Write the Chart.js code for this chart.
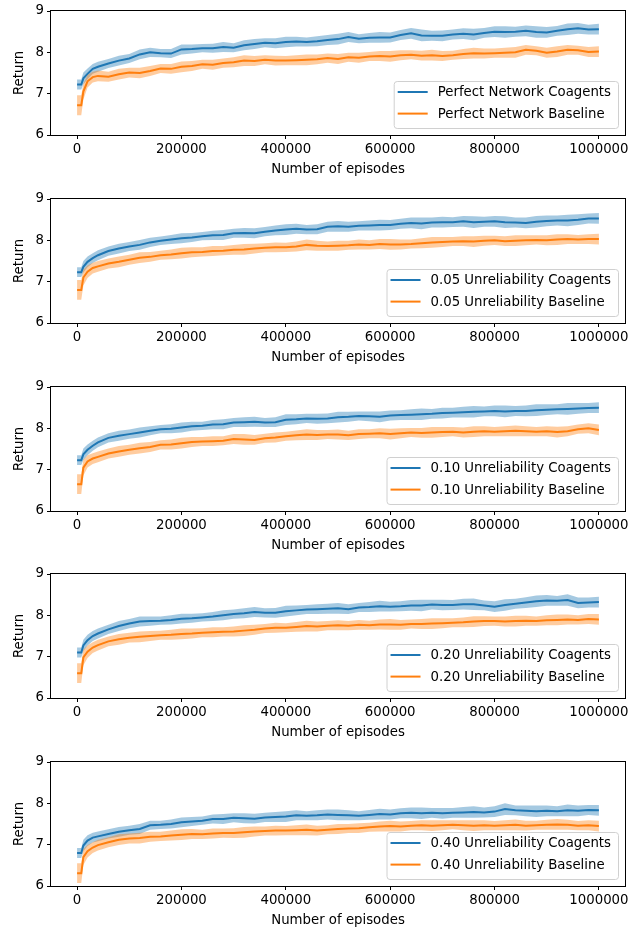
<!DOCTYPE html>
<html>
<head>
<meta charset="utf-8">
<script src="https://cdn.jsdelivr.net/npm/chart.js@4.4.1/dist/chart.umd.min.js"></script>
<style>
  body { margin: 0; background: #fff; }
  #fig { position: relative; width: 644px; height: 933px; }
  #fig canvas { position: absolute; left: 0; }
</style>
</head>
<body>
<div id="fig"></div>
<script>
// episode positions shared by every curve
const episodes = [0, 8000, 12000, 20000, 30000,
  40000, 60000, 80000, 100000, 120000, 140000, 160000, 180000, 200000, 220000,
  240000, 260000, 280000, 300000, 320000, 340000, 360000, 380000, 400000, 420000,
  440000, 460000, 480000, 500000, 520000, 540000, 560000, 580000, 600000, 620000,
  640000, 660000, 680000, 700000, 720000, 740000, 760000, 780000, 800000, 820000,
  840000, 860000, 880000, 900000, 920000, 940000, 960000, 980000, 1000000];

const xTicks = [0, 200000, 400000, 600000, 800000, 1000000];
const yTicks = [6, 7, 8, 9];

const panelNames = ['Perfect Network', '0.05 Unreliability', '0.10 Unreliability',
  '0.20 Unreliability', '0.40 Unreliability'];

// mean return, coagents
const coagentsPerfect = [7.22, 7.22, 7.37, 7.48, 7.6,
  7.65, 7.73, 7.8, 7.85, 7.95, 8.0, 7.98, 7.97, 8.07, 8.08,
  8.1, 8.1, 8.13, 8.11, 8.17, 8.2, 8.23, 8.22, 8.25, 8.26,
  8.25, 8.27, 8.3, 8.32, 8.37, 8.33, 8.35, 8.36, 8.36, 8.42,
  8.46, 8.41, 8.4, 8.4, 8.43, 8.45, 8.43, 8.47, 8.5, 8.49,
  8.5, 8.52, 8.49, 8.48, 8.52, 8.56, 8.58, 8.55, 8.56];
const coagents05 = [7.23, 7.23, 7.36, 7.48, 7.57,
  7.64, 7.74, 7.8, 7.85, 7.89, 7.95, 7.99, 8.02, 8.05, 8.07,
  8.1, 8.12, 8.13, 8.17, 8.18, 8.17, 8.21, 8.24, 8.26, 8.28,
  8.26, 8.27, 8.33, 8.34, 8.33, 8.35, 8.36, 8.37, 8.37, 8.4,
  8.42, 8.41, 8.43, 8.44, 8.44, 8.46, 8.44, 8.45, 8.46, 8.44,
  8.43, 8.42, 8.45, 8.47, 8.48, 8.48, 8.5, 8.53, 8.53];
const coagents10 = [7.23, 7.23, 7.37, 7.48, 7.58,
  7.66, 7.77, 7.82, 7.86, 7.9, 7.94, 7.98, 7.99, 8.02, 8.05,
  8.06, 8.09, 8.1, 8.14, 8.15, 8.16, 8.14, 8.15, 8.21, 8.22,
  8.24, 8.23, 8.24, 8.27, 8.28, 8.3, 8.29, 8.28, 8.31, 8.32,
  8.33, 8.34, 8.35, 8.37, 8.38, 8.39, 8.4, 8.41, 8.42, 8.41,
  8.42, 8.42, 8.44, 8.45, 8.46, 8.47, 8.48, 8.49, 8.5];
const coagents20 = [7.1, 7.1, 7.27, 7.4, 7.5,
  7.56, 7.66, 7.74, 7.8, 7.85, 7.86, 7.87, 7.89, 7.92, 7.93,
  7.95, 7.97, 8.0, 8.03, 8.05, 8.08, 8.06, 8.06, 8.1, 8.12,
  8.14, 8.15, 8.16, 8.17, 8.15, 8.19, 8.2, 8.22, 8.21, 8.22,
  8.24, 8.24, 8.26, 8.25, 8.25, 8.27, 8.27, 8.24, 8.21, 8.25,
  8.28, 8.31, 8.34, 8.36, 8.35, 8.37, 8.3, 8.31, 8.32];
const coagents40 = [6.8, 6.8, 6.98, 7.1, 7.17,
  7.2, 7.26, 7.31, 7.35, 7.38, 7.47, 7.48, 7.5, 7.54, 7.56,
  7.58, 7.62, 7.62, 7.65, 7.64, 7.63, 7.66, 7.67, 7.68, 7.71,
  7.7, 7.71, 7.73, 7.72, 7.71, 7.7, 7.72, 7.74, 7.73, 7.76,
  7.77, 7.76, 7.77, 7.76, 7.77, 7.78, 7.79, 7.78, 7.8, 7.86,
  7.83, 7.82, 7.81, 7.82, 7.81, 7.83, 7.82, 7.84, 7.83];

// mean return, baseline
const baselinePerfect = [6.72, 6.72, 7.05, 7.3, 7.4,
  7.43, 7.41, 7.47, 7.51, 7.5, 7.55, 7.61, 7.6, 7.65, 7.67,
  7.71, 7.7, 7.74, 7.76, 7.8, 7.79, 7.82, 7.8, 7.8, 7.81,
  7.82, 7.83, 7.86, 7.84, 7.88, 7.87, 7.9, 7.91, 7.9, 7.93,
  7.94, 7.92, 7.93, 7.91, 7.93, 7.96, 7.98, 7.97, 7.98, 7.99,
  8.0, 8.06, 8.04, 7.99, 8.02, 8.06, 8.05, 8.01, 8.02];
const baseline05 = [6.8, 6.8, 7.1, 7.24, 7.33,
  7.37, 7.44, 7.48, 7.53, 7.58, 7.6, 7.64, 7.66, 7.69, 7.71,
  7.72, 7.74, 7.75, 7.77, 7.78, 7.8, 7.82, 7.83, 7.83, 7.85,
  7.89, 7.87, 7.86, 7.87, 7.88, 7.9, 7.89, 7.91, 7.9, 7.9,
  7.91, 7.93, 7.95, 7.96, 7.97, 7.98, 7.97, 7.99, 8.0, 7.98,
  7.99, 8.0, 8.01, 8.0, 8.02, 8.03, 8.02, 8.03, 8.03];
const baseline10 = [6.65, 6.65, 7.05, 7.2, 7.27,
  7.31, 7.39, 7.44, 7.48, 7.52, 7.55, 7.6, 7.61, 7.64, 7.67,
  7.68, 7.69, 7.7, 7.74, 7.73, 7.72, 7.76, 7.78, 7.81, 7.83,
  7.85, 7.84, 7.85, 7.85, 7.83, 7.86, 7.87, 7.88, 7.86, 7.88,
  7.9, 7.89, 7.9, 7.91, 7.92, 7.9, 7.92, 7.93, 7.92, 7.93,
  7.94, 7.93, 7.92, 7.93, 7.91, 7.93, 7.98, 8.0, 7.96];
const baseline20 = [6.6, 6.6, 6.98, 7.12, 7.22,
  7.28, 7.37, 7.42, 7.46, 7.48, 7.5, 7.52, 7.53, 7.55, 7.56,
  7.58, 7.59, 7.6, 7.61, 7.63, 7.65, 7.68, 7.7, 7.7, 7.72,
  7.74, 7.73, 7.75, 7.76, 7.75, 7.77, 7.76, 7.78, 7.78, 7.77,
  7.79, 7.79, 7.8, 7.81, 7.82, 7.83, 7.85, 7.86, 7.86, 7.85,
  7.86, 7.87, 7.86, 7.88, 7.89, 7.9, 7.89, 7.91, 7.9];
const baseline40 = [6.31, 6.31, 6.7, 6.84, 6.93,
  6.99, 7.06, 7.12, 7.15, 7.16, 7.19, 7.2, 7.22, 7.24, 7.26,
  7.25, 7.27, 7.28, 7.28, 7.3, 7.32, 7.33, 7.34, 7.34, 7.35,
  7.36, 7.34, 7.36, 7.38, 7.39, 7.4, 7.42, 7.44, 7.45, 7.44,
  7.46, 7.47, 7.46, 7.47, 7.48, 7.47, 7.46, 7.47, 7.46, 7.47,
  7.48, 7.46, 7.47, 7.48, 7.49, 7.48, 7.46, 7.47, 7.45];

// half-width of the shaded band around each mean
const coagentSpread = [0.12, 0.12, 0.14, 0.13, 0.12,
  0.12, 0.11, 0.12, 0.11, 0.12, 0.11, 0.1, 0.11, 0.12, 0.11,
  0.1, 0.11, 0.12, 0.11, 0.12, 0.12, 0.11, 0.12, 0.13, 0.12,
  0.11, 0.12, 0.12, 0.13, 0.12, 0.11, 0.12, 0.13, 0.12, 0.12,
  0.13, 0.14, 0.12, 0.13, 0.12, 0.13, 0.14, 0.12, 0.13, 0.14,
  0.12, 0.13, 0.14, 0.13, 0.12, 0.14, 0.13, 0.12, 0.13];
const baselineSpread = [0.24, 0.24, 0.19, 0.15, 0.13,
  0.13, 0.12, 0.13, 0.12, 0.13, 0.12, 0.11, 0.12, 0.13, 0.12,
  0.11, 0.12, 0.11, 0.12, 0.13, 0.12, 0.11, 0.12, 0.11, 0.12,
  0.13, 0.12, 0.11, 0.12, 0.11, 0.12, 0.11, 0.12, 0.13, 0.12,
  0.11, 0.12, 0.13, 0.12, 0.11, 0.12, 0.13, 0.12, 0.11, 0.12,
  0.13, 0.12, 0.11, 0.12, 0.13, 0.12, 0.11, 0.12, 0.13];

const coagentSeries = [coagentsPerfect, coagents05, coagents10, coagents20, coagents40];
const baselineSeries = [baselinePerfect, baseline05, baseline10, baseline20, baseline40];

const BLUE = '#1f77b4';
const ORANGE = '#ff7f0e';
const FONT = { family: '"DejaVu Sans", sans-serif', size: 13.3 };
const canvasTops = [0, 188, 376, 563, 751];

function points(values, spread, sign) {
  return episodes.map((e, i) => ({ x: e, y: spread ? values[i] + sign * spread[i] : values[i] }));
}

// axes frame on all four sides plus the legend box in the lower right
const frameAndLegend = {
  id: 'frameAndLegend',
  afterDraw(chart) {
    const { ctx, chartArea } = chart;
    ctx.save();
    ctx.strokeStyle = '#000';
    ctx.lineWidth = 1;
    ctx.strokeRect(Math.round(chartArea.left) - 0.5, Math.round(chartArea.top) - 0.5,
      Math.round(chartArea.right - chartArea.left) + 1, Math.round(chartArea.bottom - chartArea.top) + 1);

    const items = chart.data.datasets.filter(d => d.legend);
    ctx.font = FONT.size + 'px ' + FONT.family;
    const textW = Math.max(...items.map(d => ctx.measureText(d.label).width));
    const w = 44 + textW + 7;
    const h = 47;
    const x0 = chartArea.right - 7 - w;
    const y0 = chartArea.bottom - 7 - h;
    ctx.beginPath();
    ctx.roundRect(x0 + 0.5, y0 + 0.5, w, h, 3);
    ctx.fillStyle = 'rgba(255,255,255,0.8)';
    ctx.fill();
    ctx.strokeStyle = '#d0d0d0';
    ctx.stroke();
    items.forEach((d, i) => {
      const cy = y0 + 11 + i * 21.6;
      ctx.beginPath();
      ctx.moveTo(x0 + 4, cy);
      ctx.lineTo(x0 + 34, cy);
      ctx.strokeStyle = d.borderColor;
      ctx.lineWidth = 2;
      ctx.stroke();
      ctx.fillStyle = '#000';
      ctx.textBaseline = 'middle';
      ctx.fillText(d.label, x0 + 44, cy + 1);
    });
    ctx.restore();
  }
};

const fig = document.getElementById('fig');
panelNames.forEach((name, p) => {
  const canvas = document.createElement('canvas');
  canvas.width = 644;
  canvas.height = 178;
  canvas.style.top = canvasTops[p] + 'px';
  fig.appendChild(canvas);

  const coag = coagentSeries[p];
  const base = baselineSeries[p];
  new Chart(canvas, {
    type: 'line',
    data: {
      datasets: [
        { data: points(coag, coagentSpread, -1), borderWidth: 0, pointRadius: 0, fill: false, order: 5 },
        { data: points(coag, coagentSpread, 1), borderWidth: 0, pointRadius: 0,
          fill: '-1', backgroundColor: 'rgba(31,119,180,0.4)', order: 4 },
        { label: name + ' Coagents', legend: true, data: points(coag), borderColor: BLUE,
          borderWidth: 2, pointRadius: 0, fill: false, order: 3 },
        { data: points(base, baselineSpread, -1), borderWidth: 0, pointRadius: 0, fill: false, order: 2 },
        { data: points(base, baselineSpread, 1), borderWidth: 0, pointRadius: 0,
          fill: '-1', backgroundColor: 'rgba(255,127,14,0.4)', order: 1 },
        { label: name + ' Baseline', legend: true, data: points(base), borderColor: ORANGE,
          borderWidth: 2, pointRadius: 0, fill: false, order: 0 }
      ]
    },
    options: {
      responsive: false,
      animation: false,
      events: [],
      layout: { padding: { left: 12, right: 19, top: 11, bottom: 0 } },
      plugins: { legend: { display: false }, tooltip: { enabled: false } },
      elements: { line: { tension: 0 } },
      scales: {
        x: {
          type: 'linear', min: -50000, max: 1050000,
          afterBuildTicks: s => { s.ticks = xTicks.map(v => ({ value: v })); },
          afterFit: s => { s.height = 43; },
          border: { display: false },
          grid: { drawOnChartArea: false, tickLength: 4, color: '#000' },
          ticks: { callback: v => String(v), maxRotation: 0, autoSkip: false, padding: 3, color: '#000', font: FONT },
          title: { display: true, text: 'Number of episodes', color: '#000', font: FONT, padding: 0 }
        },
        y: {
          min: 6, max: 9,
          afterBuildTicks: s => { s.ticks = yTicks.map(v => ({ value: v })); },
          afterFit: s => { s.width = 39; },
          border: { display: false },
          grid: { drawOnChartArea: false, tickLength: 4, color: '#000' },
          ticks: { padding: 3, color: '#000', font: FONT },
          title: { display: true, text: 'Return', color: '#000', font: FONT, padding: 0 }
        }
      }
    },
    plugins: [frameAndLegend]
  });
});
</script>
</body>
</html>
